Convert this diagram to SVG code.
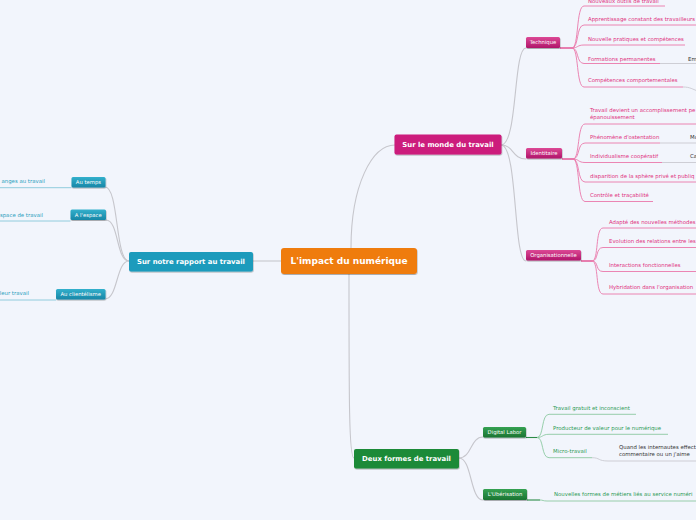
<svg xmlns="http://www.w3.org/2000/svg" width="696" height="520" viewBox="0 0 696 520">
<style>
.bg{fill:#f2f5fc}
.gc{fill:none;stroke:#c6c6cc;stroke-width:1.1}
.pk{fill:none;stroke:#ea78aa;stroke-width:0.9}
.pkb{fill:none;stroke:#e0307c;stroke-width:1.2}
.tl{fill:none;stroke:#86c8da;stroke-width:0.9}
.gr{fill:none;stroke:#8ccaa2;stroke-width:0.9}
.grb{fill:none;stroke:#2b8a45;stroke-width:1.1}
.gy{fill:none;stroke:#c9c9d0;stroke-width:0.9}
.top{font-family:"DejaVu Sans",Verdana,sans-serif;font-weight:bold;fill:#fff;text-anchor:middle}
.sub{font-family:"DejaVu Sans",Verdana,sans-serif;font-size:5.3px;fill:#fff;text-anchor:middle}
.tp{font-family:"DejaVu Sans",Verdana,sans-serif;font-size:5.4px;fill:#e0307c}
.tt{font-family:"DejaVu Sans",Verdana,sans-serif;font-size:5.4px;fill:#2a9fbd;text-anchor:end}
.tg{font-family:"DejaVu Sans",Verdana,sans-serif;font-size:5.4px;fill:#2b9a55}
.td{font-family:"DejaVu Sans",Verdana,sans-serif;font-size:5.4px;fill:#333}
</style>
<defs>
<linearGradient id="gm" x1="0" y1="0" x2="0" y2="1"><stop offset="0" stop-color="#dc4895"/><stop offset="1" stop-color="#b0156a"/></linearGradient>
<linearGradient id="gt" x1="0" y1="0" x2="0" y2="1"><stop offset="0" stop-color="#33b0cc"/><stop offset="1" stop-color="#1786a6"/></linearGradient>
<linearGradient id="gg" x1="0" y1="0" x2="0" y2="1"><stop offset="0" stop-color="#35a152"/><stop offset="1" stop-color="#1b7432"/></linearGradient>
<filter id="sh" x="-10%" y="-20%" width="120%" height="160%"><feDropShadow dx="0.5" dy="1" stdDeviation="0.6" flood-color="#000" flood-opacity="0.3"/></filter>
</defs>
<rect class="bg" x="0" y="0" width="696" height="520"/>

<g id="connectors">
<!-- central to main -->
<path class="gc" d="M281,261 H253"/>
<path class="gc" d="M351,248 C351,185 372,145 395,145"/>
<path class="gc" d="M349,274 C349,400 349,458 354,458"/>
<!-- monde to subs -->
<path class="gc" d="M501,145 C518,145 513,48 526,48"/>
<path class="gc" d="M501,145 C514,145 512,159 526,159"/>
<path class="gc" d="M501,145 C518,145 513,261 526,261"/>
<!-- rapport to subs -->
<path class="gc" d="M129,261 C115,261 119,187 105,187"/>
<path class="gc" d="M129,261 C116,261 119,220 106,220"/>
<path class="gc" d="M129,261 C116,261 118,299 105,299"/>
<!-- deux to subs -->
<path class="gc" d="M459,458 C472,458 470,437 483,437"/>
<path class="gc" d="M459,458 C472,458 470,500 483,500"/>

<!-- Technique branch -->
<path class="pkb" d="M560,48 H572"/>
<path class="pk" d="M572,48 C579,48 576,6 584,6 H665"/>
<path class="pk" d="M572,48 C579,48 576,25 584,25 H700"/>
<path class="pk" d="M572,48 C578,48 577,45 584,45 H685"/>
<path class="pk" d="M572,48 C579,48 576,63.5 584,63.5 H660"/>
<path class="gy" d="M660,63.5 H700"/>
<path class="pk" d="M572,48 C579,48 576,87 584,87 H683"/>
<path class="gy" d="M683,87 C690,87 692,89 700,92"/>
<!-- Identitaire branch -->
<path class="pkb" d="M562,159 H573"/>
<path class="pk" d="M573,159 C580,159 577,124 585,124 H700"/>
<path class="pk" d="M573,159 C580,159 577,143 585,143 H660"/>
<path class="gy" d="M660,143 H700"/>
<path class="pk" d="M573,159 C579,159 578,162.5 585,162.5 H662"/>
<path class="gy" d="M662,162.5 H700"/>
<path class="pk" d="M573,159 C580,159 577,182 585,182 H700"/>
<path class="pk" d="M573,159 C580,159 577,201.5 585,201.5 H653"/>
<!-- Organisationnelle branch -->
<path class="pkb" d="M581,261 H592"/>
<path class="pk" d="M592,261 C599,261 595,228 603,228 H700"/>
<path class="pk" d="M592,261 C599,261 595,247.5 603,247.5 H700"/>
<path class="pk" d="M592,261 C599,261 595,271.5 603,271.5 H700"/>
<path class="pk" d="M592,261 C599,261 595,294 603,294 H700"/>
<!-- Digital labor branch -->
<path class="grb" d="M526,437.5 H537"/>
<path class="gr" d="M537,437.5 C544,437.5 541,414.3 549,414.3 H636"/>
<path class="gr" d="M537,437.5 C543,437.5 542,434.3 549,434.3 H668"/>
<path class="gr" d="M537,437.5 C544,437.5 541,457.7 549,457.7 H592"/>
<path class="gy" d="M592,457.7 C600,457.7 598,461 608,461 H700"/>
<!-- Uberisation branch -->
<path class="grb" d="M527,500 H540"/>
<path class="gr" d="M540,500 C543,500 543,501 547,501 H700"/>
<!-- teal branches -->
<path class="tl" d="M71.5,187.7 H-5"/>
<path class="tl" d="M70.5,221 H-5"/>
<path class="tl" d="M56,300 H-5"/>
</g>

<g id="central">
<rect x="281" y="248" width="136" height="26" rx="3" fill="#ef7b10" filter="url(#sh)"/>
<text class="top" x="349" y="264.3" font-size="9">L'impact du numérique</text>
</g>
<g id="rapport">
<rect x="129" y="252" width="124" height="19.5" rx="2" fill="#1a9bbc" filter="url(#sh)"/>
<text class="top" x="191" y="264.2" font-size="6.9">Sur notre rapport au travail</text>
</g>
<g id="monde">
<rect x="394.5" y="134.5" width="107" height="20" rx="2" fill="#cc1b7b" filter="url(#sh)"/>
<text class="top" x="448" y="147" font-size="6.9">Sur le monde du travail</text>
</g>
<g id="deux">
<rect x="354" y="449" width="105" height="19.5" rx="2" fill="#1e8a38" filter="url(#sh)"/>
<text class="top" x="406.5" y="461.2" font-size="6.9">Deux formes de travail</text>
</g>

<g id="technique">
<rect x="526" y="37" width="34" height="11" rx="1.5" fill="url(#gm)" filter="url(#sh)"/>
<text class="sub" x="543" y="44.4">Technique</text>
</g>
<g id="identitaire">
<rect x="526" y="148" width="36" height="10.5" rx="1.5" fill="url(#gm)" filter="url(#sh)"/>
<text class="sub" x="544" y="155.1">Identitaire</text>
</g>
<g id="organisationnelle">
<rect x="526" y="250" width="55" height="10.5" rx="1.5" fill="url(#gm)" filter="url(#sh)"/>
<text class="sub" x="553.5" y="257.2">Organisationnelle</text>
</g>
<g id="autemps">
<rect x="71.5" y="177" width="34" height="10.5" rx="1.5" fill="url(#gt)" filter="url(#sh)"/>
<text class="sub" x="88.5" y="184.2">Au temps</text>
</g>
<g id="alespace">
<rect x="70.5" y="209.5" width="35.5" height="10.5" rx="1.5" fill="url(#gt)" filter="url(#sh)"/>
<text class="sub" x="88.2" y="216.6">A l'espace</text>
</g>
<g id="auclientelisme">
<rect x="56" y="289" width="49.5" height="10.5" rx="1.5" fill="url(#gt)" filter="url(#sh)"/>
<text class="sub" x="80.7" y="296.2">Au clientélisme</text>
</g>
<g id="digitallabor">
<rect x="483" y="427" width="43" height="10.5" rx="1.5" fill="url(#gg)" filter="url(#sh)"/>
<text class="sub" x="504.5" y="434.2">Digital Labor</text>
</g>
<g id="uberisation">
<rect x="483" y="489" width="44" height="11" rx="1.5" fill="url(#gg)" filter="url(#sh)"/>
<text class="sub" x="505" y="496.4">L'Ubérisation</text>
</g>

<g id="t1"><text class="tp" x="588" y="3">Nouveaux outils de travail</text></g>
<g id="t2"><text class="tp" x="588" y="21">Apprentissage constant des travailleurs</text></g>
<g id="t3"><text class="tp" x="588" y="41">Nouvelle pratiques et compétences</text></g>
<g id="t4"><text class="tp" x="588" y="60.5">Formations permanentes</text></g>
<g id="t4a"><text class="td" x="688" y="60.5">Em</text></g>
<g id="t5"><text class="tp" x="588" y="82">Compétences comportementales</text></g>

<g id="i1"><text class="tp" x="590" y="111.7">Travail devient un accomplissement pe</text><text class="tp" x="590" y="119.2">épanouissement</text></g>
<g id="i2"><text class="tp" x="590" y="139">Phénomène d'ostentation</text></g>
<g id="i2a"><text class="td" x="690" y="138.5">Mo</text></g>
<g id="i3"><text class="tp" x="590" y="157.7">Individualisme coopératif</text></g>
<g id="i3a"><text class="td" x="690" y="157.5">Ca</text></g>
<g id="i4"><text class="tp" x="590" y="178">disparition de la sphère privé et publiq</text></g>
<g id="i5"><text class="tp" x="590" y="196.7">Contrôle et traçabilité</text></g>

<g id="o1"><text class="tp" x="609" y="224.3">Adapté des nouvelles méthodes</text></g>
<g id="o2"><text class="tp" x="609" y="243">Evolution des relations entre les</text></g>
<g id="o3"><text class="tp" x="609" y="266.7">Interactions fonctionnelles</text></g>
<g id="o4"><text class="tp" x="609" y="289.2">Hybridation dans l'organisation</text></g>

<g id="d1"><text class="tg" x="553" y="410">Travail gratuit et inconscient</text></g>
<g id="d2"><text class="tg" x="553" y="430">Producteur de valeur pour le numérique</text></g>
<g id="d3"><text class="tg" x="553" y="452.7">Micro-travail</text></g>
<g id="d3a"><text class="td" x="619" y="448.7">Quand les internautes effect</text><text class="td" x="619" y="456.2">commentaire ou un j'aime</text></g>
<g id="u1"><text class="tg" x="554" y="496">Nouvelles formes de métiers liés au service numéri</text></g>

<g id="l1"><text class="tt" x="45" y="183">anges au travail</text></g>
<g id="l2"><text class="tt" x="43" y="216.7">espace de travail</text></g>
<g id="l3"><text class="tt" x="29" y="294.5">leur travail</text></g>
</svg>
